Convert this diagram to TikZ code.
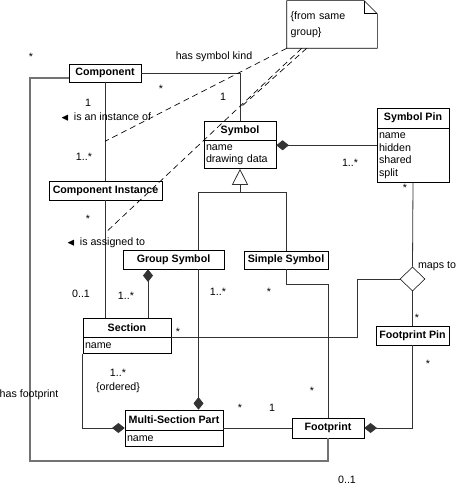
\documentclass[tikz,border=0pt]{standalone}
\usepackage{fontspec}
\setmainfont{Liberation Sans}
\usepackage{amsmath,amssymb}
\usetikzlibrary{positioning,arrows.meta,shapes.geometric,calc}

\begin{document}
\begin{tikzpicture}[x=0.75pt, y=-0.75pt,
  clase/.style={draw, fill=white, inner sep=1pt,
                font=\fontsize{8}{9.5}\selectfont\bfseries},
  atrib/.style={draw, fill=white, align=left, inner xsep=1.5pt,
                inner ysep=1pt, font=\fontsize{8}{9.4}\selectfont},
  etiq/.style={font=\fontsize{8}{9.5}\selectfont, inner sep=0.5pt},
  enlace/.style={draw=black!80, line width=0.6pt},
  grueso/.style={draw=black!55, line width=1.1pt},
  compo/.style={{Diamond[length=9.5pt, width=7.5pt]}-},
  hereda/.style={{Triangle[open, length=12pt, width=12pt, fill=white]}-},
  guion/.style={dash pattern=on 4.5pt off 3pt, line width=0.5pt}]
  \useasboundingbox (0,0) rectangle (455,485);
  % Clases
  \node[clase, minimum width=54pt, minimum height=13.5pt] (comp) at (105,73) {Component};
  \node[clase, minimum width=84.75pt, minimum height=14.25pt] (inst) at (105.5,190.5)
       {Component Instance};
  \node[clase, minimum width=54pt, minimum height=14.25pt] (simb) at (240,130.5) {Symbol};
  \node[atrib, below=0pt of simb, text width=51pt, minimum height=21pt] (simbat)
       {name\\drawing data};
  \node[clase, minimum width=54pt, minimum height=15pt] (pin) at (413,118) {Symbol Pin};
  \node[atrib, below=0pt of pin, text width=51pt, minimum height=40.5pt] (pinat)
       {name\\hidden\\shared\\split};
  \node[clase, minimum width=75.75pt, minimum height=14.25pt] (grupo) at (173.5,259.5)
       {Group Symbol};
  \node[clase, minimum width=63pt, minimum height=13.5pt] (simple) at (286,260)
       {Simple Symbol};
  \node[clase, minimum width=66pt, minimum height=14.25pt] (secc) at (127,327.5) {Section};
  \node[atrib, below=0pt of secc, text width=63pt, minimum height=12pt] (seccat) {name};
  \node[clase, minimum width=54.75pt, minimum height=14.25pt] (fpin) at (412.5,335.5)
       {Footprint Pin};
  \node[clase, minimum width=73.5pt, minimum height=15pt] (multi) at (174,420)
       {Multi-Section Part};
  \node[atrib, below=0pt of multi, text width=70.5pt, minimum height=12pt] (multiat) {name};
  \node[clase, minimum width=54pt, minimum height=15pt] (huella) at (328,428) {Footprint};
  \node[draw, fill=white, diamond, minimum width=18.75pt, minimum height=18pt,
        inner sep=0pt] (mapea) at (412.5,279) {};
  % Nota
  \node[etiq, font=\fontsize{8}{12}\selectfont, minimum width=67.5pt,
        minimum height=35.25pt, text width=62pt, align=left] (nota) at (332,24.5)
       {\{from same\\group\}};
  \draw ([xshift=-9.75pt]nota.north east) coordinate (pliegue)
        -- (nota.north west) -- (nota.south west) -- (nota.south east)
        -- ([yshift=-9.75pt]nota.north east) coordinate (pliegue2) -- cycle;
  \draw (pliegue) |- (pliegue2);
  % Asociaciones
  \coordinate (esq) at (30,461);
  \draw[grueso] ([yshift=-3.75pt]comp.west) -| (esq) -| (huella.south);
  \draw[enlace] (comp.east) -| (simb.north);
  \draw[enlace] (comp.south) -- (comp.south |- inst.north);
  \draw[enlace] (comp.south |- inst.south) -- (comp.south |- secc.north);
  \coordinate (diaS) at ([yshift=-3.75pt]simbat.north east);
  \draw[enlace, compo] (diaS) -- (diaS -| pinat.west);
  % Herencia
  \coordinate (rama) at (240,192);
  \draw[enlace, hereda] (simbat.south) -- (rama);
  \draw[enlace] (rama) -| ([xshift=18.75pt]grupo.north);
  \draw[enlace] (rama) -| (simple.north);
  % Composiciones
  \coordinate (gbajo) at ([xshift=18.75pt]grupo.south);
  \draw[enlace, compo] (multi.north -| gbajo) -- (gbajo);
  \coordinate (gsec) at ([xshift=-19.125pt]grupo.south);
  \draw[enlace, compo] (gsec) -- (gsec |- secc.north);
  \draw[enlace, compo] (multi.west |- huella.west) -| (seccat.south west);
  \draw[enlace] (multi.east |- huella.west) -- (huella.west);
  \draw[enlace, compo] (huella.east) -| (fpin.south);
  % maps to
  \coordinate (codo) at (357,279);
  \draw[enlace] (secc.south east) -| (codo) -- (mapea.west);
  \draw[enlace] (pinat.south) -- (mapea.north);
  \draw[enlace] (mapea.south) -- (fpin.north);
  \coordinate (codo2) at (328,284);
  \draw[enlace] (simple.south) |- (codo2) -- (huella.north);
  % Restricciones
  \coordinate (r1) at ($(comp.south)!0.6!(comp.south |- inst.north)$);
  \coordinate (r2) at ($(comp.south |- inst.south)!0.28!(comp.south |- secc.north)$);
  \coordinate (r3) at ($(comp.east -| simb.north)!0.73!(simb.north)$);
  \draw[guion] (nota.south west) -- (r1);
  \draw[guion] ([xshift=11.25pt]nota.south west) -- (r2);
  \draw[guion] ([xshift=15pt]nota.south west) -- (r3);
  % Roles
  \node[etiq] (rolsk) at (214,57) {has symbol kind};
  \node[etiq] (rolinst) at (106,117)
       {{\scriptsize$\blacktriangleleft$}\hspace{3.5pt}is an instance of};
  \node[etiq] (rolasig) at (106,243)
       {{\scriptsize$\blacktriangleleft$}\hspace{3.5pt}is assigned to};
  \node[etiq] (rolmap) at (437,266) {maps to};
  \node[etiq] (rolfp) at (29,395) {has footprint};
  \node[etiq] (orden) at (118,388) {\{ordered\}};
  % Multiplicidades
  \foreach \x/\y/\m [count=\i] in {31/57/*, 161/89/*, 223/97/1, 88/103/1,
      84/157/1..*, 88/219/*, 81/294/0..1, 126/296/1..*, 218/292/1..*,
      269/292/*, 350/163/1..*, 405/188/*, 417/318/*, 178/332/*, 428/364/*,
      312/391/*, 240/408/*, 272/408/1, 347/480/0..1, 118/373/1..*}{
    \node[etiq] (mult\i) at (\x,\y) {\m};
  }
\end{tikzpicture}
\end{document}
